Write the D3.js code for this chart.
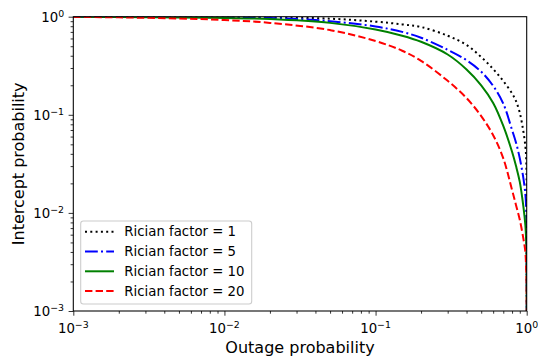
<!DOCTYPE html>
<html>
<head>
<meta charset="utf-8">
<script src="https://cdn.jsdelivr.net/npm/d3@7"></script>
<style>
  body { margin: 0; background: #fff; }
  svg { display: block; font-family: "DejaVu Sans", sans-serif; }
</style>
</head>
<body>
<div id="chart"></div>
<script>
// values
const outage = [0.001, 0.002, 0.005, 0.01, 0.02, 0.05, 0.1, 0.15, 0.2, 0.3, 0.4, 0.5,
  0.6, 0.7, 0.8, 0.85, 0.9, 0.95, 0.98, 0.99, 0.995, 0.999, 1.0]
const rician1 = [0.9995, 0.999, 0.997, 0.994, 0.988, 0.955, 0.89, 0.835, 0.785, 0.64, 0.515, 0.388,
  0.293, 0.221, 0.165, 0.138, 0.105, 0.068, 0.048, 0.039, 0.031, 0.019, 0.0001]
const rician5 = [0.999, 0.998, 0.993, 0.986, 0.972, 0.90, 0.795, 0.70, 0.61, 0.46, 0.36, 0.275,
  0.197, 0.13, 0.07, 0.052, 0.036, 0.0228, 0.0155, 0.012, 0.009, 0.005, 0.0001]
const rician10 = [0.996, 0.992, 0.982, 0.97, 0.948, 0.865, 0.74, 0.64, 0.555, 0.412, 0.29, 0.2,
  0.132, 0.077, 0.042, 0.030, 0.0207, 0.0117, 0.0075, 0.0056, 0.0046, 0.0032, 0.0001]
const rician20 = [0.995, 0.985, 0.958, 0.925, 0.865, 0.73, 0.565, 0.45, 0.355, 0.222, 0.148, 0.097,
  0.062, 0.036, 0.0171, 0.012, 0.0085, 0.0055, 0.0040, 0.0029, 0.0023, 0.0015, 0.0001]
const seriesLabels = ['Rician factor = 1', 'Rician factor = 5', 'Rician factor = 10', 'Rician factor = 20']
const seriesColors = ['#000000', '#0000ff', '#008000', '#ff0000']
const seriesDashes = ['2,3.3', '12.8,3.2,2,3.2', null, '7.4,3.2']
const majorTicks = [1e-3, 1e-2, 1e-1, 1]
const tickExponents = ['\u22123', '\u22122', '\u22121', '0']

const WIDTH = 538
const HEIGHT = 356
const LEFT = 73.3
const RIGHT = 526.7
const TOP = 16.7
const BOTTOM = 311
const MAJOR_LEN = 4.7
const MINOR_LEN = 2.7

const svg = d3.select('#chart').append('svg')
  .attr('width', WIDTH)
  .attr('height', HEIGHT)

const x = d3.scaleLog().domain([1e-3, 1]).range([LEFT, RIGHT])
const y = d3.scaleLog().domain([1e-3, 1]).range([BOTTOM, TOP])

svg.append('clipPath').attr('id', 'plot-clip')
  .append('rect')
  .attr('x', LEFT).attr('y', TOP)
  .attr('width', RIGHT - LEFT).attr('height', BOTTOM - TOP)

const series = [rician1, rician5, rician10, rician20].map((vals, i) => ({
  label: seriesLabels[i],
  color: seriesColors[i],
  dash: seriesDashes[i],
  points: outage.map((o, j) => [o, vals[j]]),
}))

const line = d3.line()
  .x((d) => x(d[0]))
  .y((d) => y(d[1]))
  .curve(d3.curveCatmullRom.alpha(0.5))

// curves
svg.append('g')
  .attr('clip-path', 'url(#plot-clip)')
  .selectAll('path')
  .data(series)
  .enter()
  .append('path')
  .attr('d', (d) => line(d.points))
  .attr('fill', 'none')
  .attr('stroke', (d) => d.color)
  .attr('stroke-width', 2)
  .attr('stroke-dasharray', (d) => d.dash)

// ticks (major + minor) from the log scales
const minorX = x.ticks().filter((t) => !majorTicks.some((m) => Math.abs(m - t) < m * 1e-6))
const minorY = y.ticks().filter((t) => !majorTicks.some((m) => Math.abs(m - t) < m * 1e-6))

const xAxisMajor = d3.axisBottom(x).tickValues(majorTicks).tickSize(MAJOR_LEN).tickFormat('')
const xAxisMinor = d3.axisBottom(x).tickValues(minorX).tickSize(MINOR_LEN).tickFormat('')
const yAxisMajor = d3.axisLeft(y).tickValues(majorTicks).tickSize(MAJOR_LEN).tickFormat('')
const yAxisMinor = d3.axisLeft(y).tickValues(minorY).tickSize(MINOR_LEN).tickFormat('')

function drawAxis(axis, transform) {
  const g = svg.append('g').attr('transform', transform).call(axis)
  g.select('.domain').remove()
  g.selectAll('.tick line').attr('stroke', '#000').attr('stroke-width', 0.8)
}
drawAxis(xAxisMajor, `translate(0,${BOTTOM})`)
drawAxis(xAxisMinor, `translate(0,${BOTTOM})`)
drawAxis(yAxisMajor, `translate(${LEFT},0)`)
drawAxis(yAxisMinor, `translate(${LEFT},0)`)

// frame
svg.append('rect')
  .attr('x', LEFT).attr('y', TOP)
  .attr('width', RIGHT - LEFT).attr('height', BOTTOM - TOP)
  .attr('fill', 'none')
  .attr('stroke', '#000')
  .attr('stroke-width', 1.07)

// tick labels like 10^-3
function powerLabel(sel) {
  sel.append('tspan').text('10')
  sel.append('tspan')
    .attr('dy', -5.2)
    .attr('font-size', 9.4)
    .text((d, i) => tickExponents[i])
}

svg.append('g')
  .selectAll('text')
  .data(majorTicks)
  .enter()
  .append('text')
  .attr('x', (d) => x(d))
  .attr('y', BOTTOM + 22)
  .attr('text-anchor', 'middle')
  .attr('font-size', 13.3)
  .attr('fill', '#000')
  .call(powerLabel)

svg.append('g')
  .selectAll('text')
  .data(majorTicks)
  .enter()
  .append('text')
  .attr('x', LEFT - MAJOR_LEN - 4.5)
  .attr('y', (d) => y(d) + 5)
  .attr('text-anchor', 'end')
  .attr('font-size', 13.3)
  .attr('fill', '#000')
  .call(powerLabel)

// axis titles
svg.append('text')
  .attr('x', (LEFT + RIGHT) / 2)
  .attr('y', 353)
  .attr('text-anchor', 'middle')
  .attr('font-size', 16)
  .text('Outage probability')

svg.append('text')
  .attr('transform', `translate(24,${(TOP + BOTTOM) / 2}) rotate(-90)`)
  .attr('text-anchor', 'middle')
  .attr('font-size', 16)
  .text('Intercept probability')

// legend
const legend = svg.append('g')
legend.append('rect')
  .attr('x', 80.7).attr('y', 221)
  .attr('width', 171).attr('height', 83)
  .attr('rx', 2.7)
  .attr('fill', '#fff').attr('fill-opacity', 0.8)
  .attr('stroke', '#cccccc').attr('stroke-width', 1.07)

const rows = legend.selectAll('g.row')
  .data(series)
  .enter()
  .append('g')
  .attr('class', 'row')
  .attr('transform', (d, i) => `translate(0,${231.7 + i * 19.8})`)

rows.append('line')
  .attr('x1', 85).attr('x2', 114)
  .attr('stroke', (d) => d.color)
  .attr('stroke-width', 2)
  .attr('stroke-dasharray', (d) => d.dash)

rows.append('text')
  .attr('x', 124.3)
  .attr('dy', '0.36em')
  .attr('font-size', 13.3)
  .text((d) => d.label)
</script>
</body>
</html>
